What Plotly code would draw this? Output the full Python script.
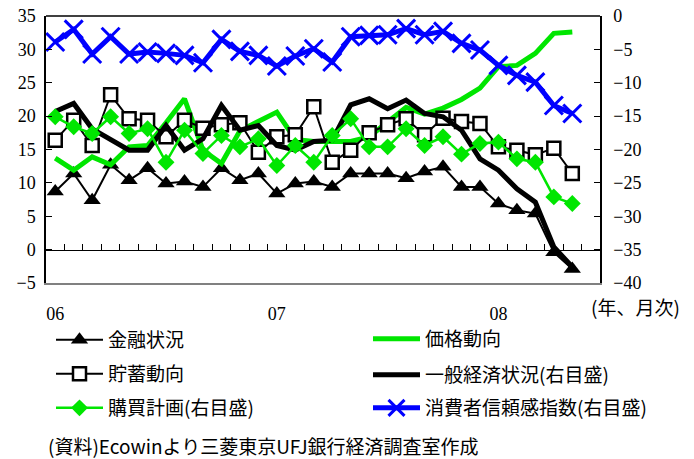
import plotly.graph_objects as go

months = ["2006-01","2006-02","2006-03","2006-04","2006-05","2006-06","2006-07","2006-08","2006-09","2006-10","2006-11","2006-12",
          "2007-01","2007-02","2007-03","2007-04","2007-05","2007-06","2007-07","2007-08","2007-09","2007-10","2007-11","2007-12",
          "2008-01","2008-02","2008-03","2008-04","2008-05","2008-06"]
data_months = months[:29]
tick_vals = ["2006-01", "2007-01", "2008-01"]
tick_text = ["06", "07", "08"]

kinyu = [8.7, 11.4, 7.4, 12.7, 10.4, 12.2, 9.9, 10.2, 9.4, 12.2, 10.4, 11.4, 8.4, 9.9, 10.2, 9.4, 11.4, 11.4, 11.4, 10.7,
         11.7, 12.4, 9.4, 9.4, 6.9, 5.9, 5.4, -0.4, -2.9]
kakaku = [13.7, 11.9, 13.9, 12.7, 15.4, 15.6, 19.0, 22.6, 14.9, 12.9, 17.8, 19.2, 20.6, 16.5, 16.2, 16.2, 16.2, 16.9, 19.2, 21.3,
          20.3, 21.2, 22.5, 24.2, 27.4, 27.6, 29.4, 32.4, 32.6]
chokin = [16.4, 19.4, 15.6, 23.2, 19.6, 19.4, 16.9, 19.4, 18.2, 18.7, 19.0, 14.6, 16.9, 17.2, 21.4, 13.1, 14.9, 17.5, 18.7, 19.6,
          17.2, 19.7, 19.2, 18.9, 15.4, 14.9, 14.2, 15.2, 11.4]
ippan = [-14.3, -13.1, -16.9, -18.4, -20.1, -20.1, -16.4, -20.1, -18.4, -13.4, -17.1, -16.4, -19.4, -20.1, -18.8, -18.6, -13.3, -12.4,
         -13.9, -12.6, -14.6, -15.1, -17.1, -21.4, -23.1, -25.9, -27.9, -34.6, -37.6]
koubai = [-15.1, -16.6, -17.6, -15.1, -17.6, -16.9, -21.9, -17.1, -20.6, -17.9, -19.6, -18.4, -22.4, -19.4, -21.9, -17.9, -15.4, -19.6,
          -19.6, -16.9, -19.4, -18.1, -20.7, -19.1, -18.9, -21.4, -21.9, -27.1, -28.1]
shouhi = [-3.9, -2.0, -5.7, -3.1, -5.7, -5.4, -5.6, -5.9, -7.0, -3.5, -5.3, -5.9, -7.5, -6.0, -4.9, -6.9, -3.1, -2.9, -2.8, -1.9,
          -2.8, -2.3, -4.1, -5.1, -7.4, -8.9, -9.9, -13.4, -14.6]

names = ["金融状況", "価格動向", "貯蓄動向", "一般経済状況(右目盛)", "購買計画(右目盛)", "消費者信頼感指数(右目盛)"]

GREEN = "#00E600"
JPFONT = "Noto Sans CJK JP"
NUMFONT = "Times New Roman"

fig = go.Figure()
fig.add_trace(go.Scatter(x=data_months, y=kinyu, name=names[0], mode="lines+markers", xaxis="x", yaxis="y",
                         line=dict(color="black", width=2),
                         marker=dict(symbol="triangle-up", size=15, color="black"), legend="legend"))
fig.add_trace(go.Scatter(x=data_months, y=kakaku, name=names[1], mode="lines", xaxis="x", yaxis="y",
                         line=dict(color=GREEN, width=5), legend="legend2"))
fig.add_trace(go.Scatter(x=data_months, y=chokin, name=names[2], mode="lines+markers", xaxis="x", yaxis="y",
                         line=dict(color="black", width=2),
                         marker=dict(symbol="square", size=13, color="white", line=dict(color="black", width=2.5)),
                         legend="legend3"))
fig.add_trace(go.Scatter(x=data_months, y=ippan, name=names[3], mode="lines", xaxis="x2", yaxis="y2",
                         line=dict(color="black", width=5), legend="legend4"))
fig.add_trace(go.Scatter(x=data_months, y=koubai, name=names[4], mode="lines+markers", xaxis="x2", yaxis="y2",
                         line=dict(color=GREEN, width=2.5),
                         marker=dict(symbol="diamond", size=13, color=GREEN), legend="legend5"))
fig.add_trace(go.Scatter(x=data_months, y=shouhi, name=names[5], mode="lines+markers", xaxis="x2", yaxis="y2",
                         line=dict(color="#0000FF", width=5),
                         marker=dict(symbol="x-thin", size=18, color="#0000FF", line=dict(color="#0000FF", width=3)),
                         legend="legend6"))

legfont = dict(family=JPFONT, size=19, color="black")
tickfont = dict(family=NUMFONT, size=18, color="black")

def leg(xpx, ypx):
    return dict(orientation="v", xref="container", yref="container", x=xpx / 694, y=1 - ypx / 459,
                xanchor="left", yanchor="middle", itemwidth=47,
                font=legfont, bgcolor="rgba(0,0,0,0)", borderwidth=0)

fig.update_layout(
    width=694, height=459,
    margin=dict(l=46, r=94, t=16, b=176, autoexpand=False),
    paper_bgcolor="white", plot_bgcolor="white",
    font=dict(family=JPFONT, color="black"),
    showlegend=True,
    legend=leg(51, 340), legend2=leg(368, 339),
    legend3=leg(51, 374), legend4=leg(368, 375),
    legend5=leg(51, 408), legend6=leg(368, 408),
    xaxis=dict(type="category", categoryarray=months, range=[-0.5, 29.5],
               tickmode="array", tickvals=tick_vals, ticktext=tick_text, ticks="",
               showline=True, linecolor="#808080", linewidth=2, showgrid=False, zeroline=False,
               tickfont=tickfont, ticklabelstandoff=13),
    xaxis2=dict(type="category", categoryarray=months, range=[-0.5, 29.5], overlaying="x",
                anchor="free", position=0.125, side="bottom",
                showline=True, linecolor="black", linewidth=1, ticks="inside", tickson="boundaries",
                ticklen=6, tickcolor="black", tickwidth=1, showticklabels=False, showgrid=False, zeroline=False),
    yaxis=dict(range=[-5, 35], dtick=5, tick0=0, ticks="inside", ticklen=6, tickcolor="black",
               showline=True, linecolor="black", linewidth=1.5, showgrid=False, zeroline=False,
               tickfont=tickfont, ticklabelstandoff=5),
    yaxis2=dict(range=[-40, 0], dtick=5, tick0=0, ticks="inside", ticklen=6, tickcolor="black",
                side="right", overlaying="y", anchor="x",
                showline=True, linecolor="black", linewidth=1.5, showgrid=False, zeroline=False,
                tickfont=tickfont, ticklabelstandoff=8),
    shapes=[dict(type="line", xref="paper", yref="paper", x0=0, x1=1, y0=1, y1=1,
                 line=dict(color="black", width=1.5))],
    annotations=[
        dict(text="(年、月次)", xref="paper", yref="paper", x=(589 - 46) / 554, y=(283 - 306) / 267,
             xanchor="left", yanchor="middle", showarrow=False, font=legfont),
        dict(text="(資料)Ecowinより三菱東京UFJ銀行経済調査室作成", xref="paper", yref="paper",
             x=(46 - 46) / 554, y=(283 - 445) / 267, xanchor="left", yanchor="middle",
             showarrow=False, font=legfont),
    ],
)

fig.write_html("out.html", config={"displayModeBar": False},
               post_script="document.body.style.margin='0px';")
